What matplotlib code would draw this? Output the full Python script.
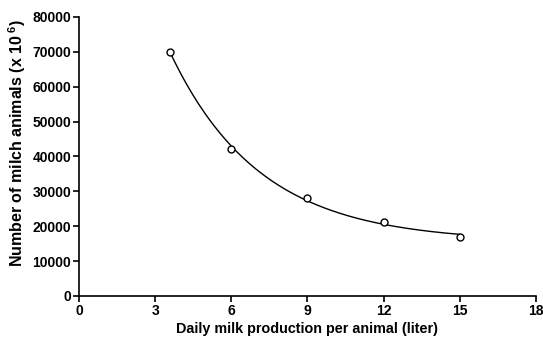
import numpy as np
import matplotlib
matplotlib.use("Agg")
import matplotlib.pyplot as plt

plt.rcParams['font.family'] = ['Liberation Sans', 'DejaVu Sans']
plt.rcParams['mathtext.default'] = 'regular'

# data
milk_per_animal = np.array([3.6, 6.0, 9.0, 12.0, 15.0])
milch_animals = np.array([69900, 42100, 28100, 21100, 16900])

x_ticks = [0, 3, 6, 9, 12, 15, 18]
y_ticks = list(range(0, 80001, 10000))


##one phase exponential decay fit: y = a*exp(-k*x) + c
def fit_decay(x, y):
    best = None
    for k in np.linspace(0.01, 1.5, 3000):
        A = np.column_stack([np.exp(-k * x), np.ones_like(x)])
        coef, res, _, _ = np.linalg.lstsq(A, y, rcond=None)
        err = np.sum((A @ coef - y) ** 2)
        if best is None or err < best[0]:
            best = (err, k, coef)
    _, k, (a, c) = best
    return lambda t: a * np.exp(-k * t) + c


curve = fit_decay(milk_per_animal, milch_animals)
xs = np.linspace(milk_per_animal.min(), milk_per_animal.max(), 200)

fig = plt.figure(figsize=(5.43, 3.39), dpi=100)
ax = fig.add_axes([0.1455, 0.127, 0.8415, 0.823])

ax.plot(xs, curve(xs), color='black', lw=1.0)
ax.plot(milk_per_animal, milch_animals, 'o', mfc='white', mec='black',
        mew=1.0, ms=5, zorder=3)

ax.set_xlim(0, 18)
ax.set_ylim(0, 80000)
ax.set_xticks(x_ticks)
ax.set_yticks(y_ticks)
for s in ['top', 'right']:
    ax.spines[s].set_visible(False)
for s in ['left', 'bottom']:
    ax.spines[s].set_linewidth(1.2)
ax.tick_params(direction='out', length=4, width=1.2, labelsize=10, pad=1.5)
for lab in ax.get_xticklabels() + ax.get_yticklabels():
    lab.set_fontweight('bold')

ax.set_xlabel('Daily milk production per animal (liter)', fontsize=10.4,
              fontweight='bold', labelpad=3)
ax.set_ylabel(r'Number of milch animals (x 10$^{\ 6}$)', fontsize=11.5,
              fontweight='bold')
ax.yaxis.set_label_coords(-0.112, 0.55)

fig.savefig('out.png', dpi=100)
